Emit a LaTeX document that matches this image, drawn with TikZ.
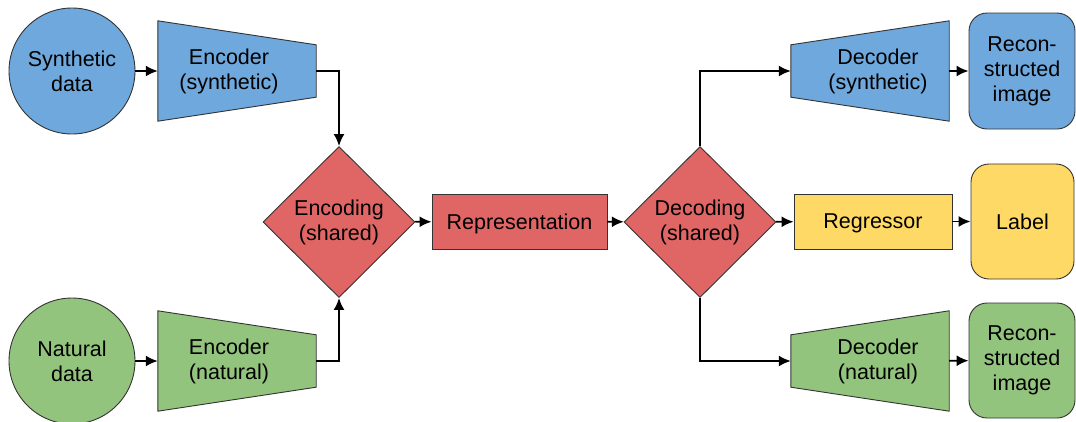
\documentclass[tikz,border=0pt]{standalone}
\usepackage{fontspec}
\setmainfont{Liberation Sans}
\usetikzlibrary{shapes.geometric,arrows.meta,calc}
\definecolor{synblue}{HTML}{6FA8DC}
\definecolor{natgreen}{HTML}{93C47D}
\definecolor{sharedred}{HTML}{E06666}
\definecolor{regyellow}{HTML}{FFD966}
\definecolor{edge}{HTML}{333333}
\pgfdeclarelayer{bg}
\pgfsetlayers{bg,main}
\begin{document}
\begin{tikzpicture}[x=1pt,y=-1pt,
  font=\fontsize{21.5pt}{25pt}\selectfont,
  box/.style={draw=edge, line width=0.9pt, align=center, inner sep=0pt},
  blob/.style={box, circle, minimum size=126pt},
  trapbox/.style={minimum width=158pt, minimum height=100pt, inner sep=0pt},
  traptext/.style={align=center, inner sep=0pt},
  gate/.style={box, diamond, fill=sharedred, minimum width=152pt, minimum height=151pt},
  block/.style={box, rectangle, minimum height=55pt, text depth=0pt},
  result/.style={box, rounded corners=18pt, minimum width=106pt, minimum height=116pt},
  shapeline/.style={draw=edge, line width=0.9pt, line join=miter},
  flow/.style={-{Latex[length=12pt,width=11pt]}, line width=1.8pt, line join=miter}]
\useasboundingbox (0,0) rectangle (1076,421);

% inputs
\node[blob, fill=synblue] (sd) at (72,71) {Synthetic\\data};
\node[blob, fill=natgreen] (nd) at (72,361) {Natural\\data};

% encoders (trapezoids drawn behind their text)
\node[trapbox] (es) at (237,71) {};
\node[traptext] (est) at (229,71) {Encoder\\(synthetic)};
\node[trapbox] (en) at (237,361) {};
\node[traptext] (ent) at (229,361) {Encoder\\(natural)};

% shared parts
\node[gate] (enc) at (339,222) {Encoding\\(shared)};
\node[block, fill=sharedred, minimum width=175pt] (rep) at (519.5,221.5) {Representation};
\node[gate] (dec) at (700,222) {Decoding\\(shared)};

% decoders
\node[trapbox] (ds) at (870,71) {};
\node[traptext] (dst) at (878,71) {Decoder\\(synthetic)};
\node[trapbox] (dn) at (870,361) {};
\node[traptext] (dnt) at (878,361) {Decoder\\(natural)};
\node[block, fill=regyellow, minimum width=158pt] (reg) at (873,221.5) {Regressor};

% outputs
\node[result, fill=synblue] (rs) at (1022,71) {Recon-\\structed\\image};
\node[result, fill=regyellow, minimum width=103pt, minimum height=115pt] (lab) at (1022.5,221.5) {Label};
\node[result, fill=natgreen, minimum height=115pt] (rn) at (1022,360.5) {Recon-\\structed\\image};

\begin{pgfonlayer}{bg}
  \filldraw[shapeline, fill=synblue] (es.north west) -- ($(es.north east)+(0,24)$)
    -- ($(es.south east)+(0,-24)$) -- (es.south west) -- cycle;
  \filldraw[shapeline, fill=natgreen] (en.north west) -- ($(en.north east)+(0,24)$)
    -- ($(en.south east)+(0,-24)$) -- (en.south west) -- cycle;
  \filldraw[shapeline, fill=synblue] ($(ds.north west)+(0,24)$) -- (ds.north east)
    -- (ds.south east) -- ($(ds.south west)+(0,-24)$) -- cycle;
  \filldraw[shapeline, fill=natgreen] ($(dn.north west)+(0,24)$) -- (dn.north east)
    -- (dn.south east) -- ($(dn.south west)+(0,-24)$) -- cycle;
\end{pgfonlayer}

% connectors
\draw[flow] (sd) -- (es);
\draw[flow] (nd) -- (en);
\draw[flow] (es.east) -| (enc.north);
\draw[flow] (en.east) -| (enc.south);
\draw[flow] (enc) -- (rep);
\draw[flow] (rep) -- (dec);
\draw[flow] (dec.north) |- (ds.west);
\draw[flow] (dec) -- (reg);
\draw[flow] (dec.south) |- (dn.west);
\draw[flow] (ds) -- (rs);
\draw[flow] (reg) -- (lab);
\draw[flow] (dn) -- (rn);
\end{tikzpicture}
\end{document}
